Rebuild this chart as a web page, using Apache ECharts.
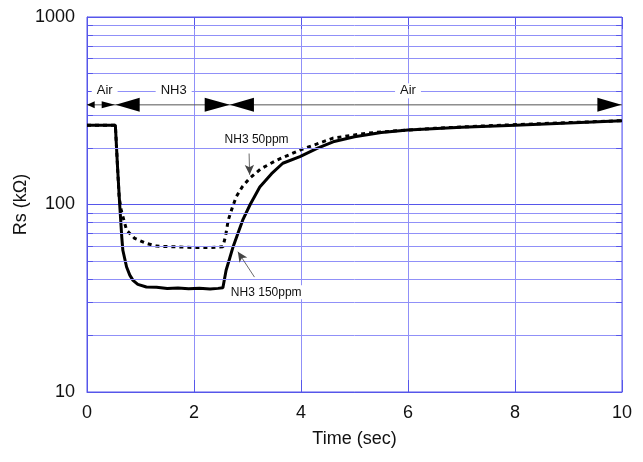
<!DOCTYPE html>
<html>
<head>
<meta charset="utf-8">
<script src="https://cdn.jsdelivr.net/npm/echarts@6/dist/echarts.min.js"></script>
<style>
  html, body { margin: 0; padding: 0; background: #fff; }
  #chart { width: 643px; height: 462px; }
</style>
</head>
<body>
<div id="chart"></div>
<script>
// Sensor resistance response (kΩ) versus time (s)
const time150 = [0, 0.53, 0.57, 0.61, 0.65, 0.67, 0.74, 0.8, 0.86, 0.95, 1.11, 1.3, 1.5, 1.7, 1.9, 2.1, 2.3, 2.45, 2.54, 2.6, 2.67, 2.73, 2.82, 2.91, 3.05, 3.23, 3.45, 3.66, 3.98, 4.3, 4.6, 5.0, 5.5, 6.0, 7.0, 8.0, 9.0, 10];
const rs150   = [265, 265, 160, 101, 67, 57, 46.4, 42, 39.4, 37.5, 36.3, 36.2, 35.6, 35.9, 35.5, 35.8, 35.4, 35.7, 36, 44.6, 52, 59.4, 70, 82.5, 100, 124, 146, 166, 180, 199, 216, 230, 242, 250, 258, 265, 272, 280];

const time50 = [0, 0.53, 0.57, 0.6, 0.64, 0.74, 0.89, 1.11, 1.3, 1.6, 2.0, 2.3, 2.54, 2.59, 2.64, 2.72, 2.79, 2.9, 3.04, 3.25, 3.54, 3.98, 4.6, 5.22, 5.78, 6.5, 7.5, 8.5, 10];
const rs50   = [265, 265, 160, 110, 93, 73, 66, 62, 60, 59.5, 59, 59, 59.5, 68, 82.5, 97, 110, 124, 138, 155, 172, 195, 226, 240, 247, 255, 263, 270, 280];

// Axes
const xMin = 0, xMax = 10, xStep = 2;
const yMin = 10, yMax = 1000;
const yMinorLines = [20, 30, 40, 50, 60, 70, 80, 90, 200, 300, 400, 500, 600, 700, 800, 900];

// Gas exposure phases shown above the curves
const bandLevel = 340;
const phaseNames = ['Air', 'NH3', 'Air'];
const phaseNameX = [0.33, 1.62, 6.0];
const phaseNameLevel = 404;
// arrow heads: [tip, base, half-height]
const phaseArrows = [[0, 0.144, 3.5], [0.52, 0.275, 3.5], [0.536, 0.985, 7], [2.67, 2.2, 7], [2.67, 3.12, 7], [9.99, 9.54, 7]];

// Curve call-outs: text position and arrow from / to
const callouts = [
  { text: 'NH3 50ppm',  at: [3.17, 221], from: [3.03, 187], to: [3.04, 144] },
  { text: 'NH3 150ppm', at: [3.35, 34],  from: [3.13, 41],  to: [2.82, 56] }
];

const FONT = "'Liberation Sans', Arial, sans-serif";
const gridLight = '#9090f8';
const gridDark = '#5656ea';

const zip = (xs, ys) => xs.map((x, i) => [x, ys[i]]);

const chart = echarts.init(document.getElementById('chart'), null, { renderer: 'canvas' });

const minorLineData = yMinorLines.map(v => ({ yAxis: v }));
const tickLen = 0.11;
const minorTickData = [];
yMinorLines.forEach(v => {
  minorTickData.push([{ coord: [xMin, v] }, { coord: [xMin + tickLen, v] }]);
  minorTickData.push([{ coord: [xMax - tickLen, v] }, { coord: [xMax, v] }]);
});

chart.setOption({
  animation: false,
  backgroundColor: '#fff',
  grid: {
    left: 87, right: 21, top: 17, bottom: 70,
    containLabel: false, outerBoundsMode: 'none',
    show: true, borderColor: gridDark, borderWidth: 1
  },
  xAxis: [{
    type: 'value', min: xMin, max: xMax, interval: xStep,
    name: 'Time (sec)', nameLocation: 'middle', nameGap: 38, nameMoveOverlap: false,
    nameTextStyle: { fontFamily: FONT, fontSize: 18, color: '#111' },
    axisLine: { show: true, lineStyle: { color: gridDark, width: 1 } },
    axisTick: { show: true, inside: true, length: 12, lineStyle: { color: gridDark } },
    axisLabel: { fontFamily: FONT, fontSize: 18, color: '#111', margin: 12 },
    splitLine: { show: true, lineStyle: { color: gridLight, width: 1, type: 'solid', opacity: 1 } }
  }, {
    type: 'value', min: xMin, max: xMax, interval: xStep, position: 'top',
    axisLine: { show: false },
    axisTick: { show: true, inside: true, length: 12, lineStyle: { color: gridDark } },
    axisLabel: { show: false }, splitLine: { show: false }
  }],
  yAxis: {
    type: 'log', logBase: 10, min: yMin, max: yMax,
    name: 'Rs (kΩ)', nameLocation: 'middle', nameGap: 57, nameMoveOverlap: false,
    nameTextStyle: { fontFamily: FONT, fontSize: 18, color: '#111' },
    axisLine: { show: true, lineStyle: { color: gridDark, width: 1 } },
    axisTick: { show: false },
    axisLabel: { fontFamily: FONT, fontSize: 18, color: '#111', margin: 12, formatter: v => String(Math.round(v)) },
    splitLine: { show: true, lineStyle: { color: gridDark, width: 1, type: 'solid' } }
  },
  series: [
    {
      // minor horizontal grid at 2..9 × each decade
      type: 'line', data: [], silent: true, z: 1,
      markLine: {
        silent: true, symbol: ['none', 'none'], label: { show: false }, animation: false,
        lineStyle: { color: gridLight, type: 'solid', width: 1, opacity: 1 },
        data: minorLineData
      }
    },
    {
      type: 'line', data: [], silent: true, z: 1,
      markLine: {
        silent: true, symbol: ['none', 'none'], label: { show: false }, animation: false,
        lineStyle: { color: gridDark, type: 'solid', width: 1, opacity: 1 },
        data: minorTickData
      }
    },
    {
      // phase band line
      type: 'line', data: [[xMin, bandLevel], [xMax, bandLevel]], symbol: 'none', silent: true, z: 2,
      lineStyle: { color: '#555', width: 1 }
    },
    {
      name: 'NH3 50ppm', type: 'line', data: zip(time50, rs50), symbol: 'none', z: 3,
      lineStyle: { color: '#000', width: 3, type: [4, 4] },
      markLine: {
        silent: true, symbol: ['none', 'arrow'], symbolSize: [7, 10], label: { show: false },
        lineStyle: { color: '#444', type: 'solid', width: 0.8 },
        data: [[{ coord: callouts[0].from }, { coord: callouts[0].to }]]
      }
    },
    {
      name: 'NH3 150ppm', type: 'line', data: zip(time150, rs150), symbol: 'none', z: 4,
      lineStyle: { color: '#000', width: 3 },
      markLine: {
        silent: true, symbol: ['none', 'arrow'], symbolSize: [7, 10], label: { show: false },
        lineStyle: { color: '#444', type: 'solid', width: 0.8 },
        data: [[{ coord: callouts[1].from }, { coord: callouts[1].to }]]
      }
    }
  ]
});

// Arrow heads, phase names and call-out texts placed through the axes
const px = p => chart.convertToPixel({ gridIndex: 0 }, p);
const elements = [];
phaseArrows.forEach(([tip, base, half]) => {
  const t = px([tip, bandLevel]);
  const b = px([base, bandLevel]);
  elements.push({
    type: 'polygon', z: 100,
    shape: { points: [[t[0], t[1]], [b[0], b[1] - half], [b[0], b[1] + half]] },
    style: { fill: '#000' }
  });
});
phaseNames.forEach((name, i) => {
  const p = px([phaseNameX[i], phaseNameLevel]);
  elements.push({
    type: 'text', z: 100, x: p[0], y: p[1],
    style: { text: name, font: '13px ' + FONT, fill: '#111', align: 'center', verticalAlign: 'middle',
             backgroundColor: '#fff', padding: [1, 5] }
  });
});
callouts.forEach(c => {
  const p = px(c.at);
  elements.push({
    type: 'text', z: 100, x: p[0], y: p[1],
    style: { text: c.text, font: '12px ' + FONT, fill: '#111', align: 'center', verticalAlign: 'middle',
             backgroundColor: '#fff', padding: [1, 2] }
  });
});
chart.setOption({ graphic: elements });
</script>
</body>
</html>
